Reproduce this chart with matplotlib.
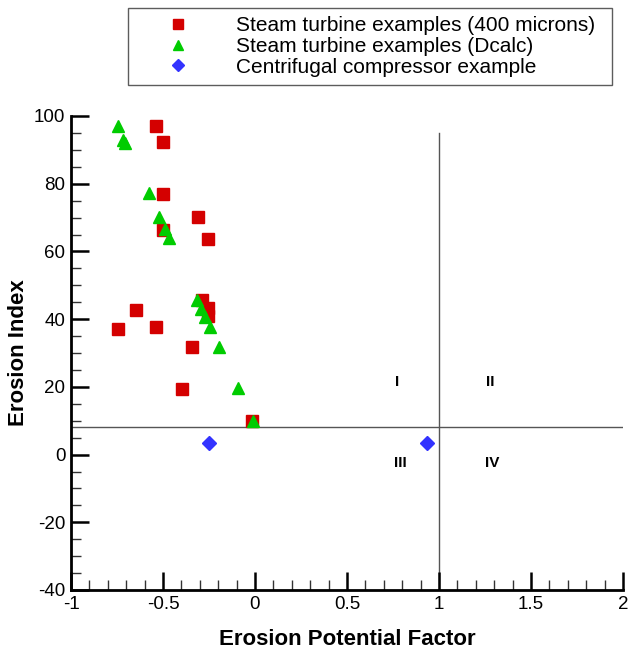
import matplotlib
matplotlib.use("Agg")
import matplotlib.pyplot as plt
from matplotlib.ticker import MultipleLocator, FuncFormatter
from matplotlib.lines import Line2D

plt.rcParams['font.family'] = ['Liberation Sans', 'DejaVu Sans']

# Data
red_x = [-0.538, -0.50, -0.50, -0.31, -0.50, -0.255, -0.29, -0.254, -0.254,
         -0.647, -0.745, -0.538, -0.342, -0.397, -0.016]
red_y = [97.0, 92.3, 77.0, 70.3, 66.4, 63.7, 45.6, 43.3, 40.8,
         42.8, 37.2, 37.8, 31.9, 19.5, 10.0]

green_x = [-0.743, -0.715, -0.705, -0.578, -0.52, -0.489, -0.467, -0.317, -0.295,
           -0.272, -0.245, -0.197, -0.094, -0.013]
green_y = [97.0, 92.8, 92.0, 77.2, 70.3, 66.6, 64.1, 45.7, 43.0,
           40.5, 37.7, 31.9, 19.7, 10.0]

blue_x = [-0.25, 0.935]
blue_y = [3.5, 3.5]

series_labels = ["Steam turbine examples (400 microns)",
                 "Steam turbine examples (Dcalc)",
                 "Centrifugal compressor example"]

quad_labels = ["I", "II", "III", "IV"]
quad_x = [0.77, 1.28, 0.79, 1.29]
quad_y = [21.5, 21.5, -2.5, -2.5]

RED, GREEN, BLUE = '#d40000', '#00cc00', '#3333ff'

fig = plt.figure(figsize=(6.31, 6.5), dpi=100)
ax = fig.add_axes([71/631, 1-590/650, (623-71)/631, (590-116)/650])

ax.axhline(8, color='#555555', lw=1, zorder=1)
ax.plot([1, 1], [-40, 95], color='#555555', lw=1, zorder=1)

ax.plot(red_x, red_y, ls='none', marker='s', ms=8, color=RED, mec=RED, zorder=3)
ax.plot(green_x, green_y, ls='none', marker='^', ms=9, color=GREEN, mec=GREEN, zorder=4)
ax.plot(blue_x, blue_y, ls='none', marker='D', ms=7, color=BLUE, mec=BLUE, zorder=5)

for t, x, y in zip(quad_labels, quad_x, quad_y):
    ax.text(x, y, t, ha='center', va='center', fontsize=11, fontweight='bold')

ax.set_xlim(-1, 2)
ax.set_ylim(-40, 100)
ax.xaxis.set_major_locator(MultipleLocator(0.5))
ax.xaxis.set_minor_locator(MultipleLocator(0.1))
ax.yaxis.set_major_locator(MultipleLocator(20))
ax.yaxis.set_minor_locator(MultipleLocator(5))
ax.xaxis.set_major_formatter(FuncFormatter(lambda v, p: f"{v:g}"))
ax.yaxis.set_major_formatter(FuncFormatter(lambda v, p: f"{v:g}"))

for s in ['top', 'right']:
    ax.spines[s].set_visible(False)
for s in ['left', 'bottom']:
    ax.spines[s].set_linewidth(2)

ax.tick_params(axis='both', which='major', direction='in', length=13, width=1.8,
               labelsize=13.5, pad=4)
ax.tick_params(axis='both', which='minor', direction='in', length=7, width=1,
               color='#333333')

ax.set_xlabel("Erosion Potential Factor", fontsize=16, fontweight='bold', labelpad=12)
ax.set_ylabel("Erosion Index", fontsize=16, fontweight='bold', labelpad=4)

handles = [Line2D([], [], ls='none', marker='s', ms=7, color=RED),
           Line2D([], [], ls='none', marker='^', ms=7.5, color=GREEN),
           Line2D([], [], ls='none', marker='D', ms=6, color=BLUE)]
leg = fig.legend(handles, series_labels, loc='upper left',
                 bbox_to_anchor=(128/631, 1-78/650, 484/631, 70/650),
                 mode='expand', fontsize=15, frameon=True, fancybox=False,
                 edgecolor='#333333', handlelength=4.0, handletextpad=0.78,
                 borderpad=0.4, labelspacing=0.08, borderaxespad=0)
leg.get_frame().set_linewidth(1)

fig.savefig("out.png", dpi=100)
